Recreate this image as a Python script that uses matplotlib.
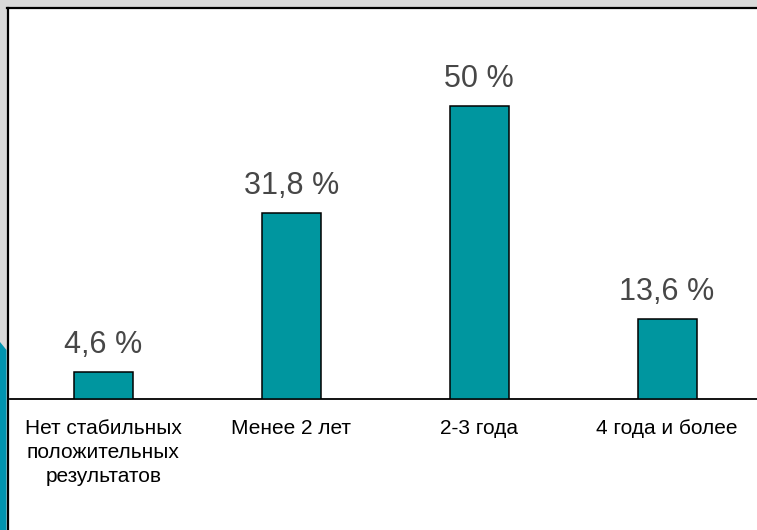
import matplotlib.pyplot as plt
from matplotlib.patches import Rectangle, Polygon
from matplotlib.lines import Line2D

categories = ['Нет стабильных\nположительных\nрезультатов', 'Менее 2 лет', '2-3 года', '4 года и более']
values = [4.6, 31.8, 50, 13.6]
value_labels = ['4,6 %', '31,8 %', '50 %', '13,6 %']

plt.rcParams['font.family'] = ['Liberation Sans', 'DejaVu Sans']

W, H = 757, 530
fig = plt.figure(figsize=(W / 100, H / 100), dpi=100, facecolor='#d9d9d9')

# white slide area with dark frame on top and left
fig.patches.append(Rectangle((7 / W, 0), 1, 1 - 7 / H, transform=fig.transFigure,
                             facecolor='white', edgecolor='none', zorder=-2))
fig.lines.append(Line2D([7 / W, 1], [1 - 7.5 / H, 1 - 7.5 / H], transform=fig.transFigure,
                        color='black', lw=1.6, zorder=-1))
fig.lines.append(Line2D([7.5 / W, 7.5 / W], [0, 1 - 7.5 / H], transform=fig.transFigure,
                        color='black', lw=1.6, zorder=-1))
# blue strip on the left edge
fig.patches.append(Polygon([(0, 1 - 342 / H), (6.5 / W, 1 - 350 / H), (6.5 / W, 0), (0, 0)],
                           closed=True, transform=fig.transFigure,
                           facecolor='#0094b0', edgecolor='none', zorder=-1))

ax = fig.add_axes([9.5 / W, 131 / H, 751.5 / W, 369 / H])
ax.set_zorder(2)
ax.patch.set_alpha(0)
x = range(len(categories))
ax.bar(x, values, width=0.314, color='#00969f', edgecolor='black', linewidth=1.1, zorder=3)
ax.set_xlim(-0.5, 3.5)
ax.set_ylim(0, 369 / 5.86)

for i, v in enumerate(values):
    ax.annotate(value_labels[i], (i, v), xytext=(0, 8.5), textcoords='offset points',
                ha='center', va='bottom', fontsize=22, color='#474747')

ax.set_xticks(list(x))
ax.set_xticklabels(categories, fontsize=15, color='black', linespacing=1.32)
ax.tick_params(axis='x', length=0, pad=14.5)
ax.set_yticks([])
for s in ['top', 'left', 'right']:
    ax.spines[s].set_visible(False)
ax.spines['bottom'].set_linewidth(1.3)
ax.spines['bottom'].set_color('black')

fig.savefig('out.png', dpi=100, facecolor=fig.get_facecolor())
